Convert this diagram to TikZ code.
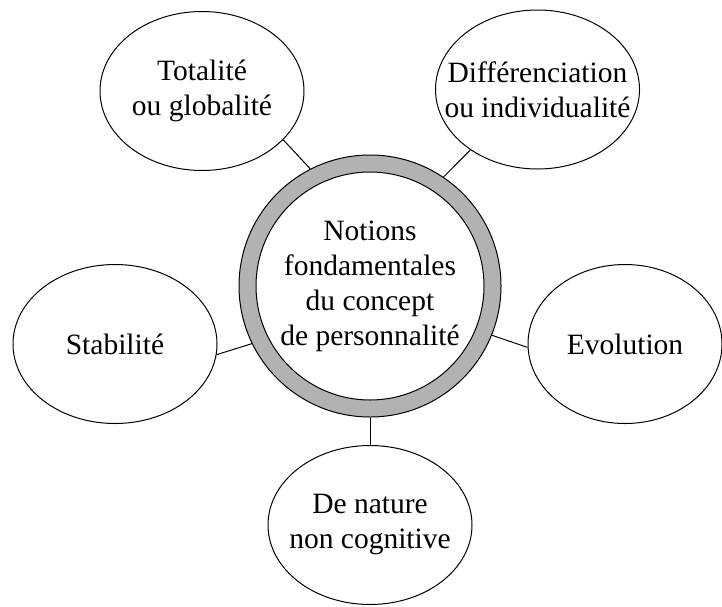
\documentclass[tikz,border=0pt]{standalone}
\usepackage{fontspec}
\setmainfont{Liberation Serif}
\usetikzlibrary{shapes.geometric}
\begin{document}
\begin{tikzpicture}[x=1pt,y=-1pt,line width=1pt]
    % \draw[step=50pt,help lines] (0,0) grid (722,606);
    \useasboundingbox (0,0) rectangle (722,606);
    \tikzstyle{every node}=[font=\fontsize{29.5}{35}\selectfont,align=center,inner sep=0pt]
    \tikzstyle{bubble}=[draw=black,ellipse,minimum width=204pt,minimum height=159pt]

    \node[circle,draw=black,fill=gray!60,minimum size=262pt] (core) at (370,286) {};
    \node[circle,draw=black,fill=white,minimum size=228pt] (corein) at (core)
      {Notions\\fondamentales\\du concept\\de personnalité};

    \node[bubble,label={center:{Totalité\\ou globalité}}] (tot) at (202,91) {};
    \node[bubble,label={center:{Différenciation\\ou individualité}}] (diff) at (537.5,89.5) {};
    \node[bubble,label={center:Stabilité}] (stab) at (115,344) {};
    \node[bubble,minimum width=194pt,label={center:Evolution}] (evol) at (625,344) {};
    \node[bubble,label={center:{De nature\\non cognitive}}] (nat) at (370,525) {};

    \draw (tot.-31.5) -- (core.117);
    \draw (diff.-138.6) -- (core.56);
    \draw (stab.-6.3) -- (core.206);
    \draw (evol.182) -- (core.-22.6);
    \draw (nat.north) -- (core.south);
\end{tikzpicture}
\end{document}
